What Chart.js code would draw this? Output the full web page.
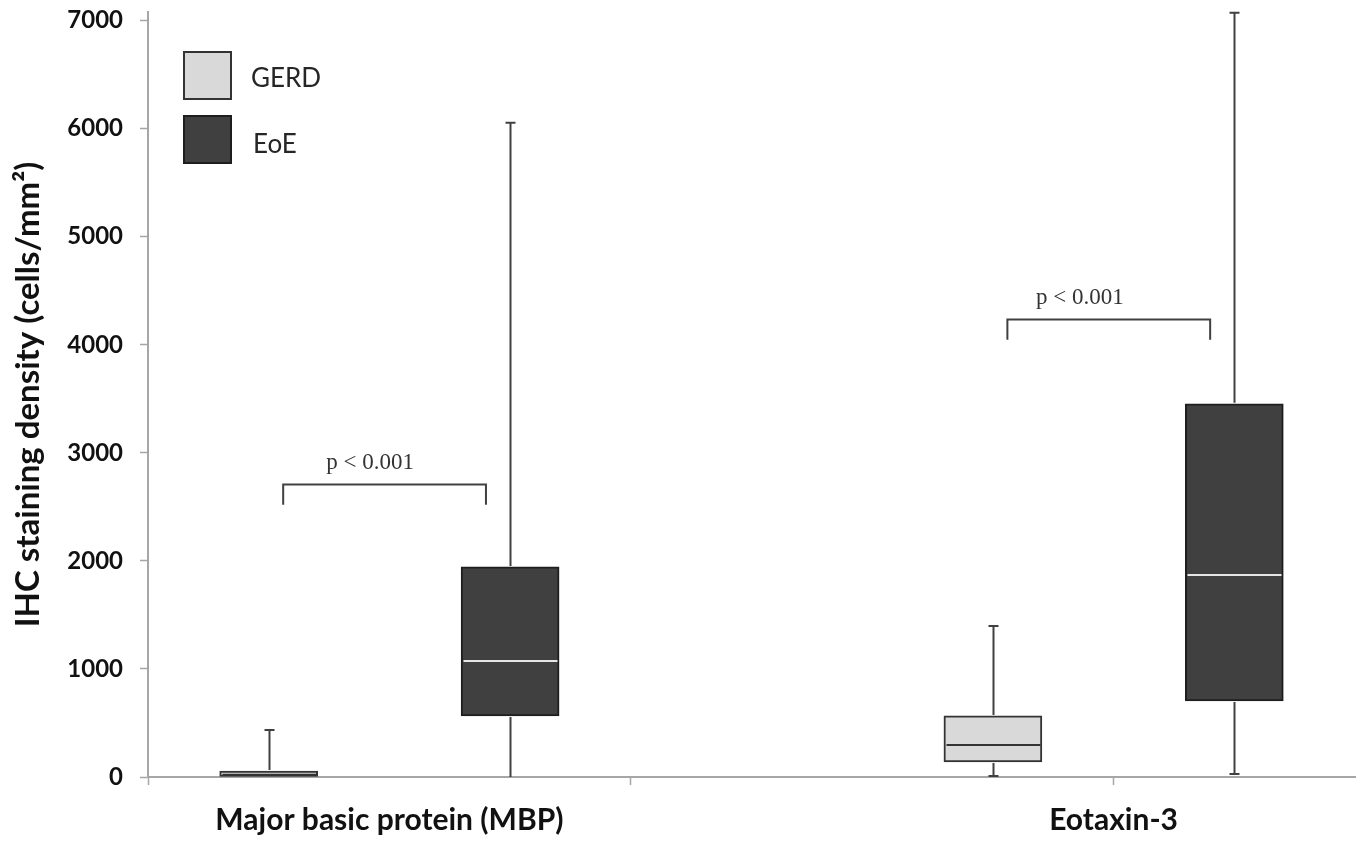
<!DOCTYPE html>
<html><head><meta charset="utf-8">
<script src="https://cdn.jsdelivr.net/npm/chart.js@4.4.0/dist/chart.umd.min.js"></script>
<style>html,body{margin:0;padding:0;background:#fff}#wrap{width:1365px;height:846px;position:relative}</style>
</head><body><div id="wrap"><canvas id="c"></canvas></div>
<script>
// ---- data ----
const categories = ['Major basic protein (MBP)', 'Eotaxin-3'];
const seriesNames = ['GERD', 'EoE'];
const yTickValues = [0, 1000, 2000, 3000, 4000, 5000, 6000, 7000];
const gerdMin = [0, 10];
const gerdQ1 = [0, 139];
const gerdMedian = [20, 296];
const gerdQ3 = [55, 565];
const gerdMax = [435, 1398];
const eoeMin = [0, 28];
const eoeQ1 = [565, 704];
const eoeMedian = [1074, 1870];
const eoeQ3 = [1944, 3454];
const eoeMax = [6056, 7074];
const pLabels = ['p < 0.001', 'p < 0.001'];
const bracketTop = [2713, 4241];
const bracketLeg = [2519, 4046];

// ---- layout helpers ----
const slot = (ci, si) => ci * 3 + si + 0.5;
const labelPos = ci => ci * 3 + 1;
const stats = [
  {min: gerdMin, q1: gerdQ1, med: gerdMedian, q3: gerdQ3, max: gerdMax},
  {min: eoeMin, q1: eoeQ1, med: eoeMedian, q3: eoeQ3, max: eoeMax}
];
const fills = ['#d9d9d9', '#404040'];
const borders = ['#333333', '#1e1e1e'];
const medianColors = ['#333333', '#e6e6e6'];
const axisGray = '#a6a6a6';

const datasets = seriesNames.map((name, si) => ({
  label: name,
  data: categories.map((c, ci) => ({x: slot(ci, si), y: [stats[si].q1[ci], stats[si].q3[ci]]})),
  backgroundColor: fills[si],
  borderColor: borders[si],
  borderWidth: 2,
  borderSkipped: false,
  barThickness: 98,
  grouped: false
}));

const boxPlugin = {
  id: 'boxExtras',
  afterDatasetsDraw(chart) {
    const ctx = chart.ctx, xs = chart.scales.x, ys = chart.scales.y;
    ctx.save();
    seriesNames.forEach((name, si) => {
      const s = stats[si];
      categories.forEach((c, ci) => {
        const cx = Math.round(xs.getPixelForValue(slot(ci, si))) + 0.5;
        const yMin = ys.getPixelForValue(s.min[ci]);
        const yQ1 = ys.getPixelForValue(s.q1[ci]);
        const yQ3 = ys.getPixelForValue(s.q3[ci]);
        const yMax = ys.getPixelForValue(s.max[ci]);
        const yMed = ys.getPixelForValue(s.med[ci]);
        ctx.strokeStyle = '#404040';
        ctx.lineWidth = 2;
        ctx.beginPath();
        ctx.moveTo(cx, yQ3 - 1); ctx.lineTo(cx, yMax);
        ctx.moveTo(cx - 5, yMax); ctx.lineTo(cx + 5, yMax);
        if (yMin - yQ1 > 1) {
          ctx.moveTo(cx, yQ1 + 1); ctx.lineTo(cx, yMin);
          if (s.min[ci] > 0) { ctx.moveTo(cx - 5, yMin); ctx.lineTo(cx + 5, yMin); }
        }
        ctx.stroke();
        const half = 48;
        ctx.strokeStyle = medianColors[si];
        ctx.lineWidth = 2;
        ctx.beginPath();
        ctx.moveTo(cx - half + 1, yMed); ctx.lineTo(cx + half - 1, yMed);
        ctx.stroke();
      });
    });
    // p-value brackets
    categories.forEach((c, ci) => {
      const xl = xs.getPixelForValue(ci * 3 + 0.56);
      const xr = xs.getPixelForValue(ci * 3 + 1.40);
      const yt = Math.round(ys.getPixelForValue(bracketTop[ci])) + 0.5;
      const yb = ys.getPixelForValue(bracketLeg[ci]);
      ctx.strokeStyle = '#404040';
      ctx.lineWidth = 2;
      ctx.beginPath();
      ctx.moveTo(xl, yb); ctx.lineTo(xl, yt); ctx.lineTo(xr, yt); ctx.lineTo(xr, yb);
      ctx.stroke();
      const tx = xs.getPixelForValue(ci * 3 + (ci === 0 ? 0.92 : 0.86));
      ctx.fillStyle = '#333333';
      ctx.font = '23px "Liberation Serif"';
      ctx.textAlign = 'center';
      ctx.textBaseline = 'middle';
      ctx.fillText(pLabels[ci], tx, yt - 22);
    });
    // legend
    seriesNames.forEach((name, si) => {
      const x0 = 184, y0 = 52 + si * 64;
      ctx.fillStyle = fills[si];
      ctx.fillRect(x0, y0, 47, 47);
      ctx.strokeStyle = borders[si];
      ctx.lineWidth = 2;
      ctx.strokeRect(x0, y0, 47, 47);
      ctx.fillStyle = '#262626';
      ctx.font = '26px Lato';
      ctx.textAlign = 'left';
      ctx.textBaseline = 'middle';
      ctx.fillText(name, 251 + si * 2, y0 + 27 + si * 2);
    });
    ctx.restore();
  }
};

new Chart(document.getElementById('c'), {
  type: 'bar',
  data: {datasets},
  options: {
    responsive: true,
    maintainAspectRatio: false,
    animation: false,
    layout: {padding: {left: 0, right: 10, top: 12, bottom: 0}},
    plugins: {legend: {display: false}, tooltip: {enabled: false}},
    scales: {
      x: {
        type: 'linear', min: 0, max: 5, offset: false,
        afterBuildTicks: s => { s.ticks = [0, 1, 2, 4].map(v => ({value: v})); },
        afterFit: s => { s.height = 69; s.paddingLeft = 0; s.paddingRight = 0; },
        grid: {drawOnChartArea: false, offset: false, tickLength: 8, tickWidth: 1.5,
          tickColor: c => (c.tick && c.tick.value === 1) ? 'rgba(0,0,0,0)' : axisGray},
        border: {color: axisGray, width: 2},
        ticks: {
          autoSkip: false, maxRotation: 0, padding: 17, color: '#111',
          font: {family: 'Lato', weight: 'bold', size: 30},
          callback: v => { const i = categories.findIndex((c, ci) => labelPos(ci) === v); return i >= 0 ? categories[i] : ''; }
        }
      },
      y: {
        min: 0, max: 7080,
        afterBuildTicks: s => { s.ticks = yTickValues.map(v => ({value: v})); },
        afterFit: s => { s.width = 148; s.paddingTop = 0; s.paddingBottom = 0; },
        grid: {drawOnChartArea: false, tickLength: 8, tickWidth: 1.5, tickColor: axisGray},
        border: {color: axisGray, width: 2},
        ticks: {padding: 17, color: '#111', font: {family: 'Lato', weight: 'bold', size: 24},
          callback: v => String(v)},
        title: {display: true, text: 'IHC staining density (cells/mm²)', color: '#111',
          font: {family: 'Lato', weight: 'bold', size: 33}, padding: {top: 9, bottom: 0}}
      }
    }
  },
  plugins: [boxPlugin]
});
</script></body></html>
